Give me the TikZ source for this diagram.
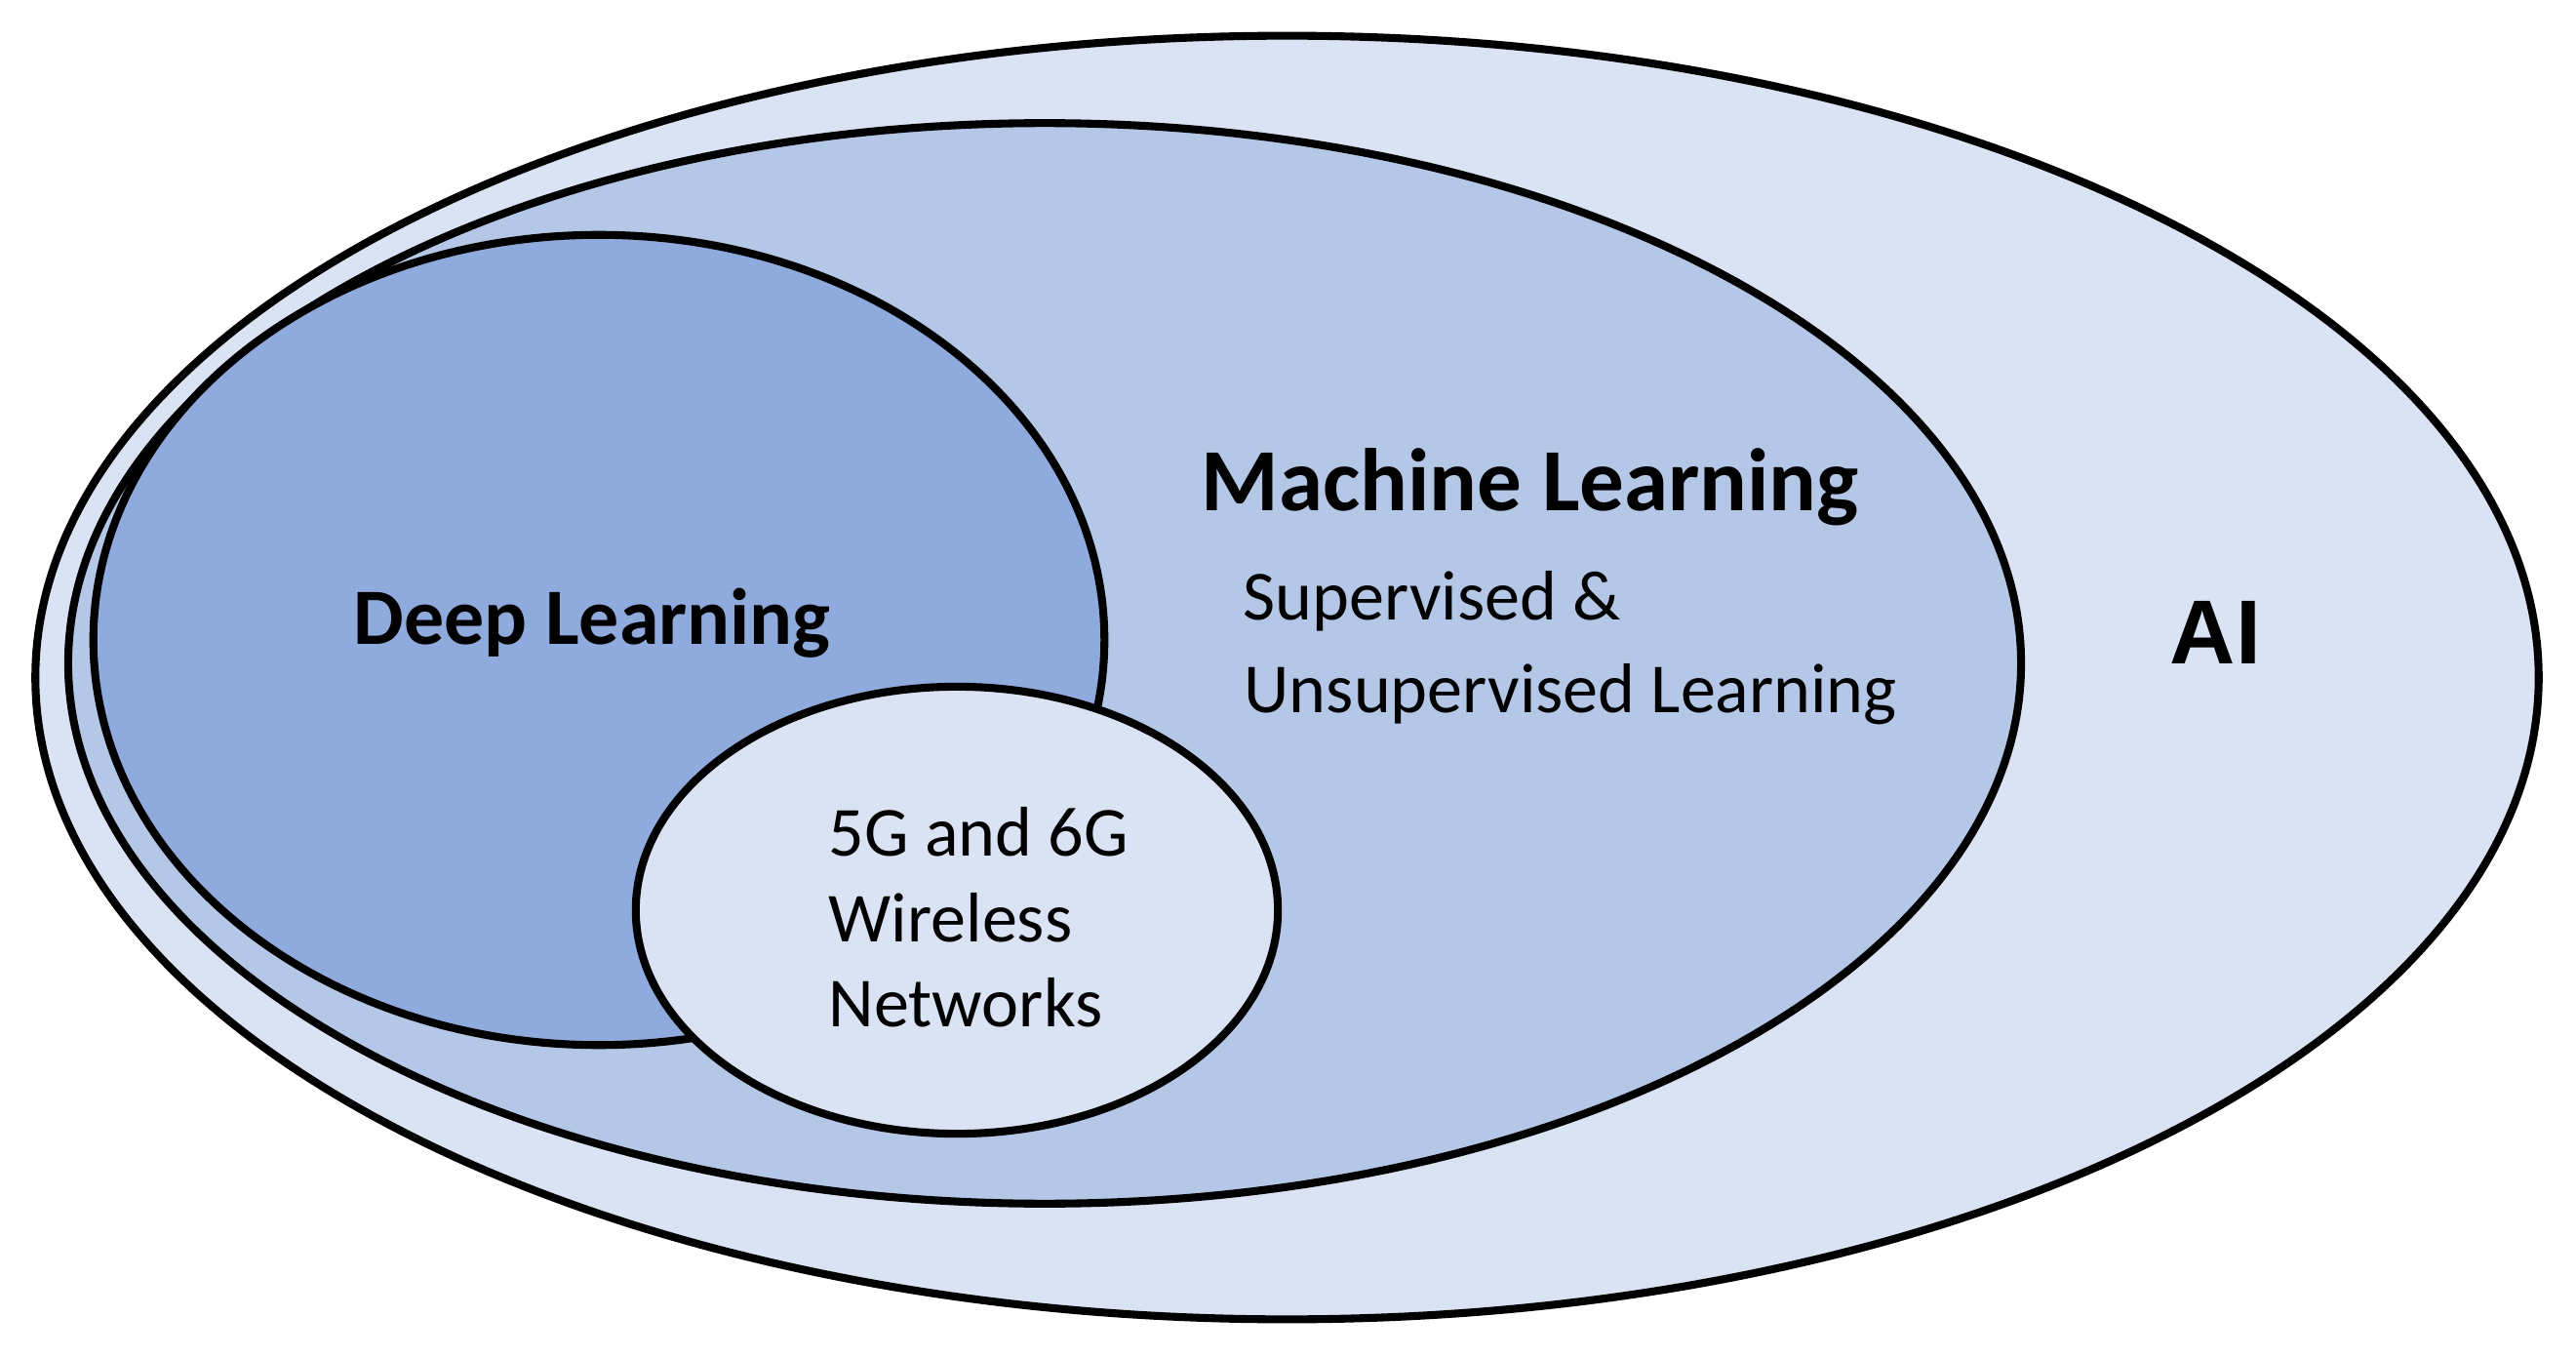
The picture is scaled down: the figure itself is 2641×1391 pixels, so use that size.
\documentclass[tikz,border=0pt]{standalone}
\usepackage{fontspec}
\newfontfamily\carlito{Carlito}
\newfontfamily\arialf{Liberation Sans}
\usetikzlibrary{shapes.geometric}
\definecolor{aifill}{HTML}{DAE3F3}
\definecolor{mlfill}{HTML}{B4C7E7}
\definecolor{dlfill}{HTML}{8FAADC}
\begin{document}
\begin{tikzpicture}[x=0.01cm,y=-0.01cm,
  setshape/.style={ellipse, draw=black, line width=2.3pt, inner sep=0pt, outer sep=0pt},
  headtext/.style={font=\carlito\bfseries\fontsize{25.9}{30}\selectfont, inner sep=0pt, anchor=base west},
  dltext/.style={font=\carlito\bfseries\fontsize{23.3}{28}\selectfont, inner sep=0pt, anchor=base west},
  bodytext/.style={font=\carlito\fontsize{20.5}{25}\selectfont, inner sep=0pt, anchor=base west},
  aitext/.style={font=\arialf\bfseries\fontsize{26.5}{32}\selectfont, inner sep=0pt, anchor=base west}]
\useasboundingbox (0,0) rectangle (2641,1391);
\node[setshape, fill=aifill, minimum width=25.65cm, minimum height=13.15cm] (ai) at (1319.5,694.5) {};
\node[setshape, fill=mlfill, minimum width=20.01cm, minimum height=11.07cm] (ml) at (1071,680) {};
\node[setshape, fill=dlfill, minimum width=10.36cm, minimum height=8.30cm] (dl) at (614,656) {};
\node[setshape, fill=aifill, minimum width=6.58cm, minimum height=4.58cm] (wn) at (981,933) {};
\node[headtext] (mlt) at (1231,524) {Machine Learning};
\node[bodytext] (sup1) at (1274,635) {Supervised \&};
\node[bodytext] (sup2) at (1275,730) {Unsupervised Learning};
\node[dltext] (dlt) at (362,660) {Deep Learning};
\node[aitext] (ait) at (2224,680) {AI};
\node[bodytext] (wn1) at (849,877) {5G and 6G};
\node[bodytext] (wn2) at (849,965) {Wireless};
\node[bodytext] (wn3) at (849,1052) {Networks};
\end{tikzpicture}
\end{document}
